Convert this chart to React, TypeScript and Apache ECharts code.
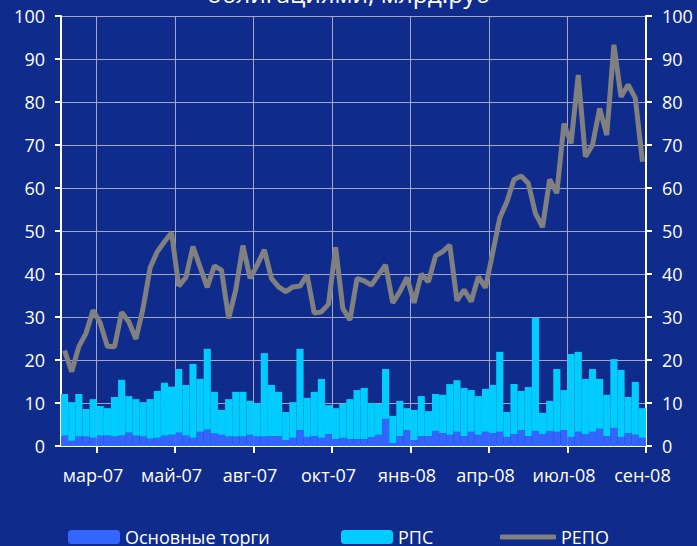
import React, { useEffect, useRef } from "react";
import * as echarts from "echarts";

const titleText = "облигациями, млрд.руб";
const tickLabels = ["мар-07", "май-07", "авг-07", "окт-07", "янв-08", "апр-08", "июл-08", "сен-08"];
const tickLabelIndex = [4, 15, 26, 37, 48, 59, 70, 81];
const yTicks = [0, 100, 10];

const mainTrading = [
  2.4, 1.2, 2.2, 2.2, 1.9, 2.4, 2.4, 2.2, 2.4, 3.1,
  2.4, 2.2, 1.7, 1.9, 2.4, 2.6, 3.1, 2.4, 1.9, 3.3,
  3.8, 2.9, 2.6, 2.2, 2.2, 2.2, 2.6, 2.2, 2.2, 2.3,
  2.3, 1.4, 1.9, 3.7, 2.1, 2.3, 1.9, 2.8, 1.6, 1.9,
  1.6, 1.6, 1.6, 2.1, 2.6, 6.3, 0.7, 2.3, 3.7, 1.4,
  2.3, 2.3, 3.5, 3.0, 2.6, 3.3, 2.3, 3.3, 2.6, 3.3,
  3.0, 3.3, 2.1, 2.8, 3.7, 2.3, 3.5, 2.8, 3.5, 3.3,
  3.7, 2.1, 3.3, 2.8, 3.3, 4.0, 2.3, 4.2, 2.1, 3.0,
  2.6, 1.9,
];

const rps = [
  9.7, 9.0, 9.9, 6.4, 9.0, 6.9, 6.4, 9.2, 13.0, 8.5,
  8.5, 8.0, 9.2, 10.9, 12.3, 11.2, 14.8, 11.8, 17.2, 12.3,
  18.8, 9.7, 5.8, 8.7, 10.4, 10.4, 7.9, 7.8, 19.4, 11.9,
  10.3, 6.5, 8.3, 18.9, 9.1, 10.3, 13.7, 6.7, 7.2, 7.9,
  9.3, 11.4, 11.9, 7.9, 7.2, 11.6, 6.3, 8.2, 5.1, 7.0,
  9.3, 5.8, 8.6, 8.9, 11.8, 12.0, 11.2, 9.7, 9.0, 10.0,
  11.2, 18.6, 5.8, 11.6, 9.1, 11.4, 26.3, 4.9, 7.0, 14.6,
  9.3, 19.3, 18.6, 12.8, 14.6, 11.6, 9.6, 16.0, 15.6, 8.4,
  12.3, 6.9,
];

const repo = [
  22.2, 17.3, 23.1, 26.2, 31.6, 28.6, 23.2, 23.1, 31.1, 28.9,
  24.9, 32.0, 41.5, 45.2, 47.5, 49.6, 37.2, 39.2, 46.4, 41.6,
  36.9, 41.9, 40.9, 29.7, 36.3, 46.6, 39.0, 42.1, 45.6, 39.0,
  37.0, 35.9, 37.0, 37.2, 39.8, 30.9, 31.2, 33.0, 46.2, 32.0,
  29.3, 39.0, 38.4, 37.4, 39.8, 42.1, 33.3, 35.9, 39.2, 33.3,
  40.0, 38.2, 44.2, 45.2, 46.7, 33.8, 36.3, 33.6, 39.4, 36.8,
  44.8, 53.0, 56.8, 62.0, 62.8, 61.1, 54.1, 50.9, 62.0, 58.8,
  75.0, 70.4, 86.3, 67.3, 70.0, 78.5, 72.3, 93.3, 81.2, 84.0,
  80.9, 66.1,
];

const seriesNames = ["Основные торги", "РПС", "РЕПО"];

const categories = mainTrading.map((_, i) => {
  const k = tickLabelIndex.indexOf(i);
  return k >= 0 ? tickLabels[k] : "w" + (i + 1);
});

const FONT = "Open Sans";
const BG = "#0f2b8b";
const GRID = "#a3a7c6";

export default function App() {
  const ref = useRef<HTMLDivElement>(null);
  useEffect(() => {
    document.body.style.margin = "0";
    if (!ref.current) return;
    const chart = echarts.init(ref.current, undefined, { renderer: "svg" });
    const showIdx = (i: number) => tickLabelIndex.includes(i);
    const tickIdx = (i: number) => tickLabelIndex.includes(i - 1);
    const yAxisBase = (pos: "left" | "right") => ({
      type: "value",
      position: pos,
      min: yTicks[0],
      max: yTicks[1],
      interval: yTicks[2],
      axisLine: { show: true, lineStyle: { color: "#ffffff", width: 2 } },
      axisTick: { show: true, length: 6, lineStyle: { color: "#ffffff", width: 2 } },
      axisLabel: { color: "#ffffff", fontSize: 18, fontFamily: FONT, margin: 16 },
      splitLine: { show: pos === "left", lineStyle: { color: GRID, width: 1 } },
    });
    const legText = { color: "#ffffff", fontSize: 18, fontFamily: FONT, lineHeight: 20 };
    chart.setOption({
      animation: false,
      backgroundColor: BG,
      textStyle: { fontFamily: FONT },
      graphic: [
        {
          type: "text",
          left: "center",
          top: -19,
          style: { text: titleText, fill: "#ffffff", font: `24.5px "${FONT}"` },
        },
      ],
      legend: [
        {
          left: 68, top: 527, padding: 0, itemWidth: 52, itemHeight: 14, itemGap: 5,
          data: [seriesNames[0]], textStyle: legText,
        },
        {
          left: 341, top: 527, padding: 0, itemWidth: 52, itemHeight: 14,
          data: [seriesNames[1]], textStyle: legText,
        },
        {
          left: 500, top: 527, padding: 0, itemWidth: 56, itemHeight: 5,
          data: [{ name: seriesNames[2], icon: "roundRect" }], textStyle: legText,
        },
      ],
      grid: { left: 61, right: 51, top: 16, bottom: 100, containLabel: false },
      xAxis: {
        type: "category",
        data: categories,
        boundaryGap: true,
        axisLine: { show: true, lineStyle: { color: "#ffffff", width: 2 } },
        axisTick: { show: true, length: 7, interval: (i: number) => tickIdx(i), lineStyle: { color: "#ffffff", width: 2 } },
        axisLabel: { interval: (i: number) => showIdx(i), color: "#ffffff", fontSize: 18, fontFamily: FONT, margin: 20 },
        splitLine: { show: true, interval: (i: number) => tickIdx(i), lineStyle: { color: GRID, width: 1 } },
      },
      yAxis: [yAxisBase("left"), yAxisBase("right")],
      series: [
        {
          name: seriesNames[0], type: "bar", stack: "v", data: mainTrading,
          barCategoryGap: "0%", itemStyle: { color: "#3366ff" },
        },
        {
          name: seriesNames[1], type: "bar", stack: "v", data: rps,
          barCategoryGap: "0%", itemStyle: { color: "#00ccff" },
        },
        {
          name: seriesNames[2], type: "line", data: repo, symbol: "none",
          lineStyle: { color: "#808080", width: 5 }, itemStyle: { color: "#808080" }, z: 5,
        },
      ],
    });
    return () => chart.dispose();
  }, []);
  return <div ref={ref} style={{ width: 697, height: 546 }} />;
}
